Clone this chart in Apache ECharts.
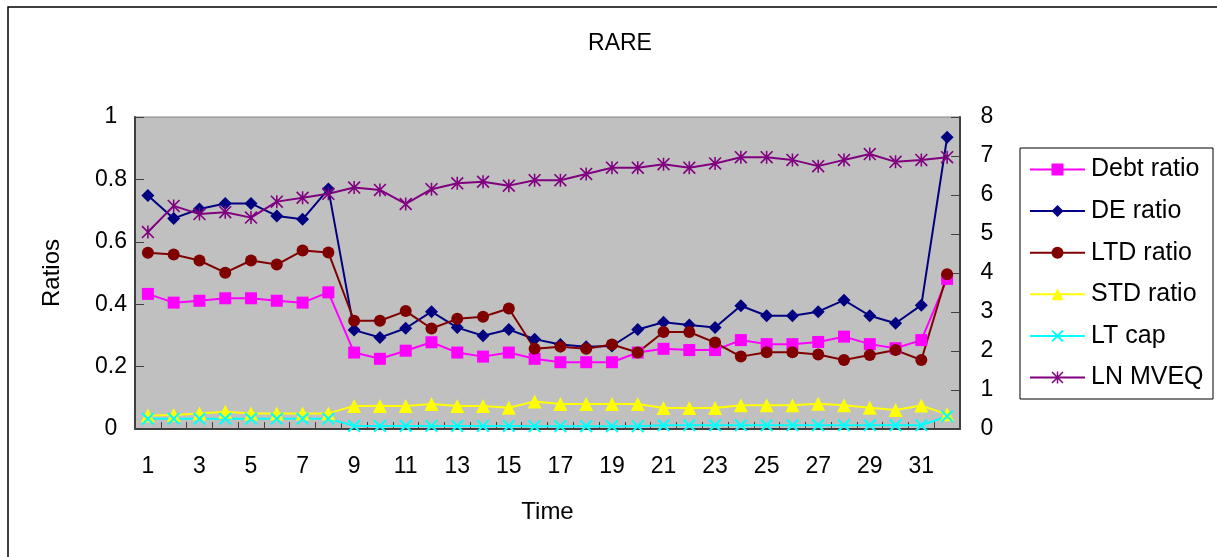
<!DOCTYPE html>
<html>
<head>
<meta charset="utf-8">
<script src="https://cdn.jsdelivr.net/npm/echarts@6/dist/echarts.min.js"></script>
<style>
html,body{margin:0;padding:0;background:#fff;}
#chart{width:1217px;height:557px;}
</style>
</head>
<body>
<div id="chart"></div>
<script>
var categories = [];
for (var i = 1; i <= 32; i++) categories.push(String(i));

var seriesNames = ['Debt ratio', 'DE ratio', 'LTD ratio', 'STD ratio', 'LT cap', 'LN MVEQ'];

var debtRatio = [0.433,0.405,0.411,0.419,0.419,0.411,0.405,0.438,0.245,0.225,0.251,0.278,0.245,0.232,0.245,0.225,0.214,0.214,0.214,0.245,0.257,0.253,0.253,0.285,0.272,0.272,0.279,0.296,0.272,0.259,0.285,0.481];
var deRatio = [0.748,0.675,0.705,0.723,0.723,0.683,0.672,0.769,0.317,0.293,0.323,0.376,0.325,0.299,0.319,0.288,0.271,0.264,0.266,0.319,0.342,0.333,0.325,0.395,0.363,0.363,0.376,0.413,0.363,0.339,0.397,0.935];
var ltdRatio = [0.565,0.559,0.540,0.501,0.540,0.527,0.572,0.566,0.347,0.347,0.378,0.322,0.353,0.360,0.386,0.257,0.264,0.257,0.271,0.245,0.311,0.311,0.277,0.232,0.246,0.246,0.239,0.221,0.237,0.253,0.221,0.496];
var stdRatio = [0.043,0.045,0.050,0.055,0.050,0.050,0.050,0.050,0.074,0.074,0.074,0.080,0.074,0.074,0.068,0.088,0.080,0.080,0.080,0.080,0.067,0.067,0.067,0.076,0.076,0.076,0.081,0.076,0.068,0.061,0.075,0.047];
var ltCap = [0.033,0.033,0.033,0.033,0.033,0.033,0.033,0.033,0.010,0.010,0.010,0.010,0.010,0.010,0.010,0.009,0.009,0.009,0.009,0.009,0.012,0.012,0.012,0.012,0.012,0.012,0.012,0.012,0.012,0.012,0.012,0.041];
var lnMveq = [5.05,5.72,5.51,5.56,5.42,5.83,5.93,6.03,6.19,6.13,5.77,6.15,6.30,6.34,6.24,6.38,6.38,6.54,6.70,6.70,6.79,6.70,6.81,6.97,6.97,6.90,6.74,6.90,7.05,6.85,6.90,6.97];

var FONT = '"Liberation Sans", Arial, sans-serif';
var crossPath = 'path://M0 2.2L2.2 0L20 17.8L17.8 20Z M17.8 0L20 2.2L2.2 20L0 17.8Z';
var starPath = 'path://M8.8 0L11.2 0L11.2 20L8.8 20Z M0 1.8L1.8 0L20 18.2L18.2 20Z M18.2 0L20 1.8L1.8 20L0 18.2Z';

function mk(name, data, color, symbol, size, yIdx) {
  return {
    name: name, type: 'line', data: data, yAxisIndex: yIdx,
    symbol: symbol, symbolSize: size,
    lineStyle: { color: color, width: 2 },
    itemStyle: { color: color, borderColor: color, borderWidth: 0 },
    emphasis: { disabled: true },
    animation: false
  };
}

var chart = echarts.init(document.getElementById('chart'));
chart.setOption({
  animation: false,
  backgroundColor: '#fff',
  title: {
    text: 'RARE', left: 615, top: 27, textAlign: 'center',
    textStyle: { fontFamily: FONT, fontSize: 23, fontWeight: 'normal', color: '#000' }
  },
  graphic: [
    { type: 'rect', shape: { x: 8, y: 7, width: 1230, height: 570 }, style: { fill: 'none', stroke: '#000', lineWidth: 1.5 }, z: 0, silent: true },
    { type: 'rect', shape: { x: 1020, y: 148, width: 193, height: 251 }, style: { fill: '#fff', stroke: '#000', lineWidth: 1 }, z: 1, silent: true }
  ],
  legend: {
    orient: 'vertical', left: 1029, top: 157, padding: 0,
    itemWidth: 55, itemHeight: 15, itemGap: 16.6,
    data: seriesNames,
    textStyle: { fontFamily: FONT, fontSize: 25, color: '#000', padding: [0, 0, 0, 1] },
    z: 5
  },
  grid: {
    left: 135, top: 117, width: 825, height: 312,
    show: true, backgroundColor: '#C0C0C0', borderColor: '#808080', borderWidth: 1
  },
  xAxis: {
    type: 'category', data: categories, boundaryGap: true,
    name: 'Time', nameLocation: 'middle', nameGap: 71,
    nameTextStyle: { fontFamily: FONT, fontSize: 24, color: '#000' },
    axisLine: { show: true, lineStyle: { color: '#404040', width: 2 } },
    axisTick: { show: true, inside: true, length: 7, interval: 0, lineStyle: { color: '#404040', width: 1 } },
    axisLabel: { interval: 1, margin: 26, fontFamily: FONT, fontSize: 23, color: '#000' },
    splitLine: { show: false }
  },
  yAxis: [
    {
      type: 'value', min: 0, max: 1, interval: 0.2, position: 'left',
      name: 'Ratios', nameLocation: 'middle', nameGap: 71,
      nameTextStyle: { fontFamily: FONT, fontSize: 24, color: '#000' },
      axisLine: { show: true, lineStyle: { color: '#404040', width: 2 } },
      axisTick: { show: true, inside: true, length: 9, lineStyle: { color: '#404040', width: 1 } },
      axisLabel: { margin: 24, align: 'center', fontFamily: FONT, fontSize: 23, color: '#000' },
      splitLine: { show: false }
    },
    {
      type: 'value', min: 0, max: 8, interval: 1, position: 'right',
      axisLine: { show: true, lineStyle: { color: '#404040', width: 2 } },
      axisTick: { show: true, inside: true, length: 9, lineStyle: { color: '#404040', width: 1 } },
      axisLabel: { margin: 27, align: 'center', fontFamily: FONT, fontSize: 23, color: '#000' },
      splitLine: { show: false }
    }
  ],
  series: [
    mk(seriesNames[0], debtRatio, '#FF00FF', 'rect', 12, 0),
    mk(seriesNames[1], deRatio, '#000080', 'diamond', 13, 0),
    mk(seriesNames[2], ltdRatio, '#800000', 'circle', 12, 0),
    mk(seriesNames[3], stdRatio, '#FFFF00', 'triangle', 14, 0),
    mk(seriesNames[4], ltCap, '#00FFFF', crossPath, 13, 0),
    mk(seriesNames[5], lnMveq, '#800080', starPath, 13, 1)
  ]
});
</script>
</body>
</html>
